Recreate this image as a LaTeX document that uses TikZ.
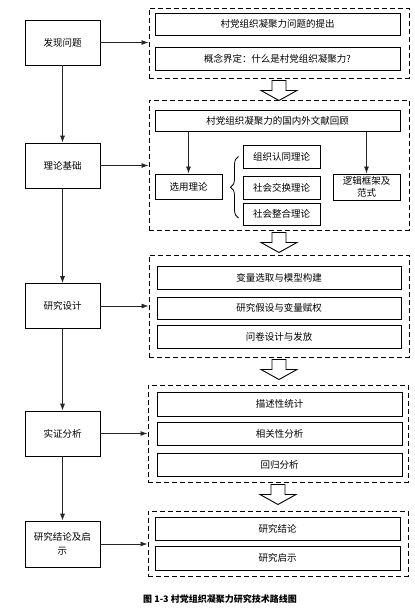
\documentclass[tikz,border=0pt]{standalone}
\usepackage{fontspec}
\newfontfamily\cjk{Noto Sans CJK SC}
\usetikzlibrary{arrows.meta,decorations.pathreplacing}

\begin{document}
\begin{tikzpicture}[x=1pt, y=-1pt,
	font=\cjk\fontsize{9.5}{14}\selectfont,
	stage/.style={draw=black, line width=0.8pt, minimum width=75pt, minimum height=45pt, inner sep=2pt, align=center},
	group/.style={draw=black, line width=1pt, dash pattern=on 5pt off 3pt, minimum width=260pt},
	item/.style={draw=black, line width=1pt, minimum width=245pt, inner sep=0pt},
	small/.style={draw=black, line width=1pt, inner sep=0pt, align=center, font=\cjk\fontsize{9.5}{12}\selectfont},
	link/.style={-{Latex[length=7pt,width=5pt]}, line width=0.8pt, draw=black!85},
	hollow/.style={draw=black, line width=0.9pt, fill=white}]
	\useasboundingbox (0,0) rectangle (415,611);
	\node[stage] (find) at (62.5,42.5) {发现问题};
	\node[stage] (theory) at (62.5,165.5) {理论基础};
	\node[stage] (design) at (62.5,306) {研究设计};
	\node[stage] (test) at (62.5,433.5) {实证分析};
	\node[stage, minimum height=46pt] (result) at (62.5,544) {研究结论及启\\示};
	\node[group, minimum height=70pt] (grpA) at (279,43) {};
	\node[group, minimum height=130pt] (grpB) at (279,165) {};
	\node[group, minimum height=102pt] (grpC) at (279,306) {};
	\node[group, minimum height=97pt] (grpD) at (278,433.5) {};
	\node[group, minimum height=65pt] (grpE) at (278,543.5) {};
	\node[item, minimum height=22pt] (propose) at (277.5,24) {村党组织凝聚力问题的提出};
	\node[item, minimum height=23pt] (concept) at (277.5,58.5) {概念界定：什么是村党组织凝聚力?};
	\node[item, minimum height=21pt] (review) at (277.5,120.5) {村党组织凝聚力的国内外文献回顾};
	\node[small, minimum width=67pt, minimum height=25pt] (choose) at (188.5,186.5) {选用理论};
	\node[small, minimum width=77pt, minimum height=23pt] (identity) at (281.5,156.5) {组织认同理论};
	\node[small, minimum width=77pt, minimum height=23pt] (exchange) at (281.5,187.5) {社会交换理论};
	\node[small, minimum width=77pt, minimum height=22pt] (integrate) at (281.5,214) {社会整合理论};
	\node[small, minimum width=67pt, minimum height=26pt] (logic) at (366.5,187) {逻辑框架及\\范式};
	\node[item, minimum width=244pt, minimum height=23pt] (variable) at (279,277.5) {变量选取与模型构建};
	\node[item, minimum width=244pt, minimum height=22pt] (hypo) at (279,308) {研究假设与变量赋权};
	\node[item, minimum width=244pt, minimum height=23pt] (survey) at (279,336.5) {问卷设计与发放};
	\node[item, minimum height=24pt] (descr) at (279.5,404) {描述性统计};
	\node[item, minimum height=23pt] (correl) at (279.5,433.5) {相关性分析};
	\node[item, minimum height=23pt] (regress) at (279.5,464.5) {回归分析};
	\node[item, minimum height=23pt] (concl) at (277.5,528.5) {研究结论};
	\node[item, minimum height=24pt] (enlight) at (277.5,558) {研究启示};
	\node[font=\cjk\bfseries\fontsize{9}{11}\selectfont] (caption) at (220,599) {图 1-3 村党组织凝聚力研究技术路线图};
	% left column
	\draw[link] (find) -- (theory);
	\draw[link] (theory) -- (design);
	\draw[link] (design) -- (test);
	\draw[link] (test) -- (result);
	\draw[link] (find.east) -- (find.east -| grpA.west);
	\draw[link] (theory.east) -- (theory.east -| grpB.west);
	\draw[link] (design.east) -- (design.east -| grpC.west);
	\draw[link] (test.east) -- (test.east -| grpD.west);
	\draw[link] (result.east) -- (result.east -| grpE.west);
	% theory block
	\draw[link] (review.south -| choose) -- (choose.north);
	\draw[link] (review.south -| logic) -- (logic.north);
	\draw[line width=0.8pt, decorate, decoration={brace, amplitude=8pt}] ([xshift=-4pt,yshift=-4pt]integrate.west) -- ([xshift=-4pt]identity.west);
	% hollow arrows
	\foreach \g in {grpA,grpB,grpC,grpD}
		\draw[hollow] (\g.south) ++(-7,2) -- ++(0,10) -- ++(-11,0) -- ++(18,10) -- ++(18,-10) -- ++(-11,0) -- ++(0,-10) -- cycle;
\end{tikzpicture}
\end{document}
